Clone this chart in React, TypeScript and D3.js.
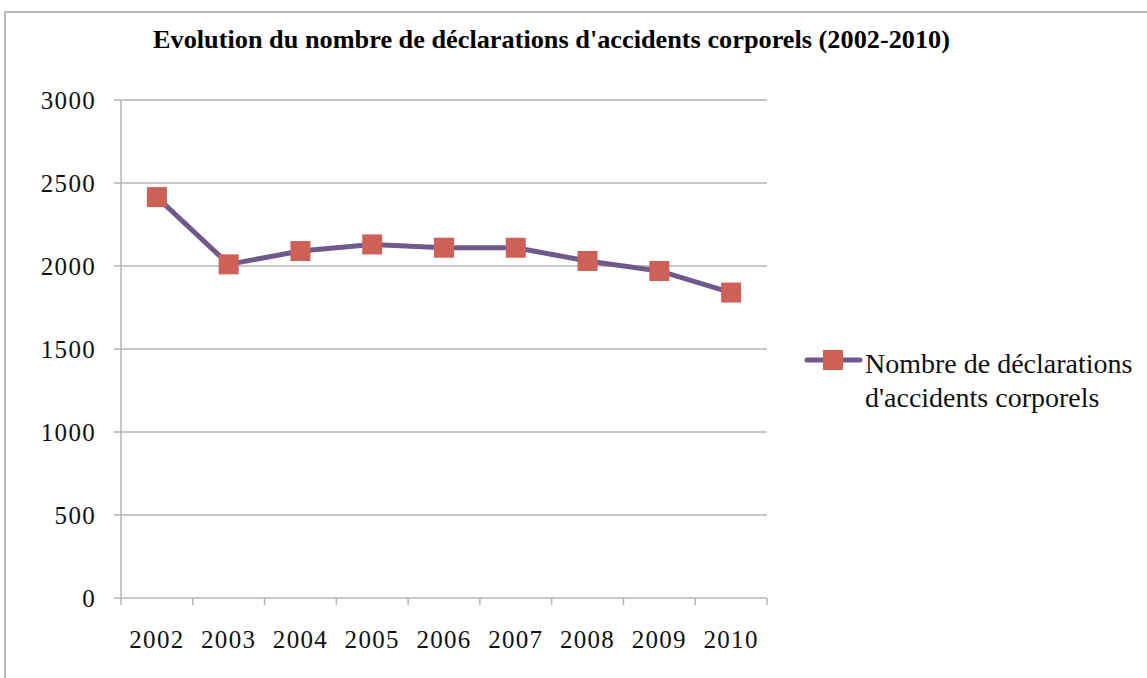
import React from "react";
import * as d3 from "d3";

const years = ["2002", "2003", "2004", "2005", "2006", "2007", "2008", "2009", "2010"];
const declarations = [2415, 2010, 2090, 2130, 2110, 2110, 2030, 1970, 1840];
const yTicks = [0, 500, 1000, 1500, 2000, 2500, 3000];
const title = "Evolution du nombre de déclarations d'accidents corporels (2002-2010)";
const legendLines = ["Nombre de déclarations", "d'accidents corporels"];

const W = 1147;
const H = 678;
const gridColor = "#b4b4b4";
const lineColor = "#6f5a8e";
const markerColor = "#cf6058";
const serif = "'Liberation Serif', 'Times New Roman', serif";

export default function App() {
  const x = d3.scaleBand().domain(years).range([121, 767]);
  const y = d3.scaleLinear().domain([0, 3000]).range([598, 100]);

  const line = d3
    .line<number>()
    .x((_, i) => x(years[i])! + x.bandwidth() / 2)
    .y((d) => y(d));

  const bounds = [...years.map((yr) => x(yr)!), x.range()[1]];

  return (
    <svg
      width={W}
      height={H}
      style={{ position: "absolute", left: 0, top: 0, background: "#fff" }}
    >
      {/* chart frame */}
      <path d={`M5,${H} V12 H${W}`} fill="none" stroke="#b8b8b8" strokeWidth={2} />

      <text
        x={153}
        y={48}
        fontFamily={serif}
        fontWeight="bold"
        fontSize={26}
        textLength={797}
        lengthAdjust="spacingAndGlyphs"
        fill="#000"
      >
        {title}
      </text>

      {/* horizontal grid + y axis ticks */}
      {yTicks.map((t) => (
        <g key={t}>
          <line x1={114} x2={767} y1={y(t)} y2={y(t)} stroke={gridColor} strokeWidth={1.5} />
          <text
            x={96}
            y={y(t)}
            dy="0.35em"
            textAnchor="end"
            fontFamily={serif}
            fontSize={25}
            letterSpacing={1.3}
            fill="#111"
          >
            {t}
          </text>
        </g>
      ))}
      <line x1={121} x2={121} y1={y(3000)} y2={y(0)} stroke={gridColor} strokeWidth={1.5} />

      {/* x axis ticks */}
      {bounds.map((b, i) => (
        <line key={i} x1={b} x2={b} y1={y(0)} y2={y(0) + 7} stroke={gridColor} strokeWidth={1.5} />
      ))}
      {years.map((yr) => (
        <text
          key={yr}
          x={x(yr)! + x.bandwidth() / 2}
          y={648}
          textAnchor="middle"
          fontFamily={serif}
          fontSize={25}
          letterSpacing={1.3}
          fill="#111"
        >
          {yr}
        </text>
      ))}

      {/* series */}
      <path d={line(declarations)!} fill="none" stroke={lineColor} strokeWidth={5} strokeLinejoin="round" />
      {declarations.map((v, i) => (
        <rect
          key={years[i]}
          x={x(years[i])! + x.bandwidth() / 2 - 10}
          y={y(v) - 10}
          width={20}
          height={20}
          fill={markerColor}
        />
      ))}

      {/* legend */}
      <line x1={807} x2={860} y1={360} y2={360} stroke={lineColor} strokeWidth={5} strokeLinecap="round" />
      <rect x={823} y={350} width={20} height={20} fill={markerColor} />
      {legendLines.map((l, i) => (
        <text
          key={l}
          x={865}
          y={373 + i * 34}
          fontFamily={serif}
          fontSize={28}
          fill="#111"
        >
          {l}
        </text>
      ))}
    </svg>
  );
}
